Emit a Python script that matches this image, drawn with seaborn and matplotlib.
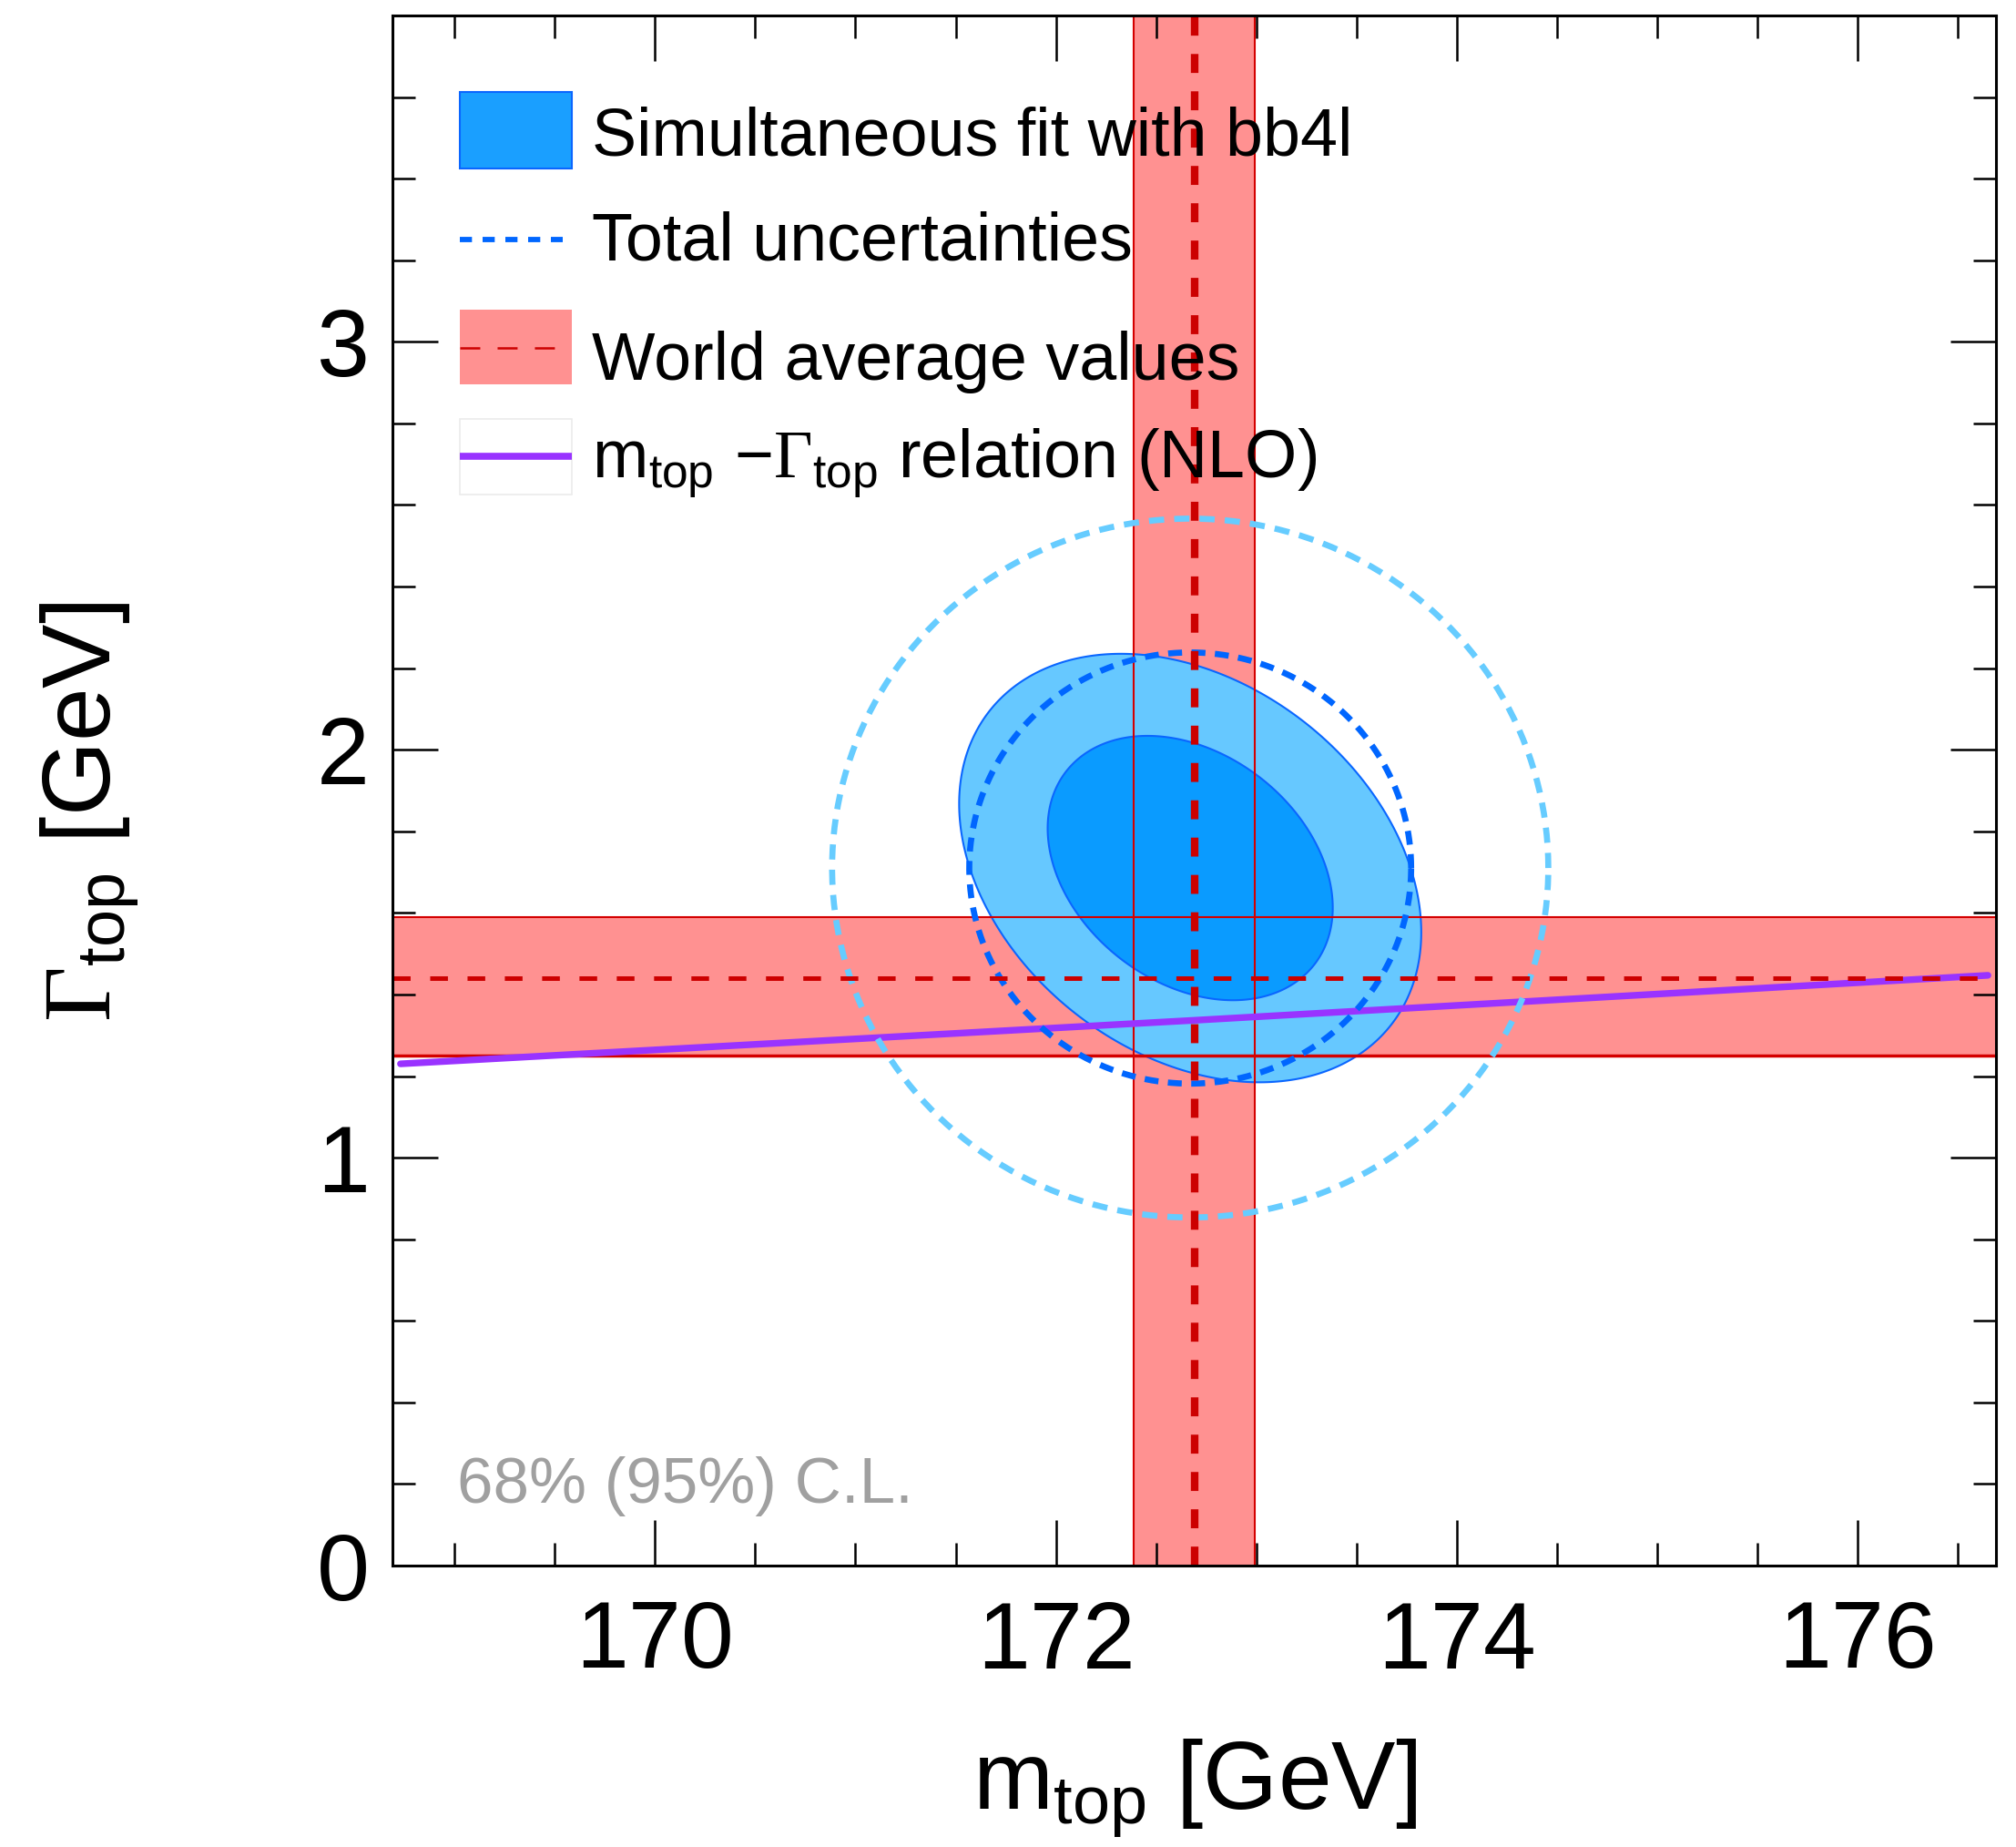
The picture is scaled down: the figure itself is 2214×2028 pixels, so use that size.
import numpy as np
import matplotlib
matplotlib.use("Agg")
import matplotlib.pyplot as plt
from matplotlib.patches import Rectangle
from matplotlib.lines import Line2D
from matplotlib.ticker import MultipleLocator
import seaborn as sns

# ---- world averages --------------------------------------------------------
wa_mass = 172.69
wa_mass_band = [172.39, 172.99]
wa_width = 1.44
wa_width_band = [1.25, 1.59]

# ---- simultaneous fit (bb4l) ----------------------------------------------
fit_mass = 172.67
fit_width = 1.71
stat_sigma = [0.471, 0.2146]   # (m_top, Gamma_top)
stat_rho = -0.30
total_sigma = [0.730, 0.350]
total_rho = 0.0

# 2D confidence levels: delta chi2 for 68% and 95%
cl_names = ["68%", "95%"]
cl_dchi2 = [2.28, 5.99]

# ---- NLO m_top - Gamma_top relation ---------------------------------------
nlo_mass = [168.73, 172.70, 176.65]
nlo_width = [1.230, 1.337, 1.447]

# ---- labels ------------------------------------------------------------------
legend_labels = [
    "Simultaneous fit with bb4l",
    "Total uncertainties",
    "World average values",
    r"$\mathrm{m}_{\mathrm{top}}$ $-\mathbf{\Gamma}_{\mathrm{top}}$ relation (NLO)",
]
cl_text = "68% (95%) C.L."
xlabel = r"$\mathrm{m}_{\mathrm{top}}$ [GeV]"
ylabel = r"$\mathbf{\Gamma}_{\mathrm{top}}$ [GeV]"

# ---- style ---------------------------------------------------------------------
sns.set_theme(style="ticks")
plt.rcParams["font.family"] = ["Liberation Sans", "DejaVu Sans"]
plt.rcParams["mathtext.fontset"] = "custom"
plt.rcParams["mathtext.rm"] = "Liberation Sans"
plt.rcParams["mathtext.it"] = "Liberation Sans:italic"
plt.rcParams["mathtext.bf"] = "Liberation Serif"
plt.rcParams["lines.scale_dashes"] = False
for key in ["text.color", "axes.labelcolor", "xtick.color", "ytick.color",
            "axes.edgecolor"]:
    plt.rcParams[key] = "black"

BAND_FILL = "#ff9191"
BAND_EDGE = "#d40000"
WA_DASH = "#cc0000"
C68 = "#0a9bff"
C95 = "#66c8ff"
CONT_EDGE = "#0a66ff"
TOT68 = "#0066ff"
TOT95 = "#66ccff"
PURPLE = "#9933ff"


def ellipse(cx, cy, sig, rho, dchi2, n=400):
    t = np.linspace(0, 2 * np.pi, n)
    r = np.sqrt(dchi2)
    x = cx + r * sig[0] * np.cos(t)
    y = cy + r * sig[1] * (rho * np.cos(t) + np.sqrt(1 - rho ** 2) * np.sin(t))
    return x, y


fig = plt.figure(figsize=(22.14, 20.28), dpi=100)
ax = fig.add_axes([431 / 2214, 309 / 2028, 1761 / 2214, 1702 / 2028])
ax.set_xlim(168.69, 176.69)
ax.set_ylim(0, 3.8)

# world-average bands
ax.axvspan(*wa_mass_band, facecolor=BAND_FILL, edgecolor="none", zorder=1)
ax.axhspan(*wa_width_band, facecolor=BAND_FILL, edgecolor="none", zorder=1)

# fit contours (95% then 68%)
for lev, col in zip(cl_dchi2[::-1], [C95, C68]):
    ex, ey = ellipse(fit_mass, fit_width, stat_sigma, stat_rho, lev)
    ax.fill(ex, ey, facecolor=col, edgecolor=CONT_EDGE, lw=1.5, zorder=2)

# band edges
for v in wa_mass_band:
    ax.axvline(v, color=BAND_EDGE, lw=1.5, zorder=3)
ax.axhline(wa_width_band[1], color=BAND_EDGE, lw=1.5, zorder=3)
ax.axhline(wa_width_band[0], color=BAND_EDGE, lw=2.5, zorder=3)

# NLO relation
sns.lineplot(x=nlo_mass, y=nlo_width, color=PURPLE, lw=5.3, ax=ax, zorder=4,
             legend=False)

# total-uncertainty contours
for lev, col, dash in zip(cl_dchi2, [TOT68, TOT95], [(11, 7.5), (12, 8)]):
    ex, ey = ellipse(fit_mass, fit_width, total_sigma, total_rho, lev)
    ax.plot(ex, ey, color=col, lw=4.8, dashes=dash, zorder=5)

# world-average central values
ax.axvline(wa_mass, color=WA_DASH, lw=6, dashes=(15, 14.5), zorder=6)
ax.axhline(wa_width, color=WA_DASH, lw=3.6, dashes=(14, 15.5), zorder=6)

# axes cosmetics
ax.xaxis.set_major_locator(MultipleLocator(2))
ax.xaxis.set_minor_locator(MultipleLocator(0.5))
ax.yaxis.set_major_locator(MultipleLocator(1))
ax.yaxis.set_minor_locator(MultipleLocator(0.2))
ax.tick_params(which="both", direction="in", top=True, right=True,
               width=1.8, color="black", labelcolor="black")
ax.tick_params(which="major", length=36, labelsize=75)
ax.tick_params(which="minor", length=18)
ax.tick_params(axis="x", which="major", pad=27)
ax.tick_params(axis="y", which="major", pad=18)
for sp in ax.spines.values():
    sp.set_linewidth(2.2)
    sp.set_color("black")
    sp.set_zorder(12)
ax.xaxis.set_zorder(11)
ax.yaxis.set_zorder(11)

ax.set_xlabel(xlabel, fontsize=76, color="black")
ax.set_ylabel(ylabel, fontsize=76, color="black")
ax.xaxis.set_label_coords(0.5, -0.111)
ax.yaxis.set_label_coords(-0.157, 0.486)

# legend, drawn in axes coordinates
T = ax.transAxes
bx0, bw = 0.0420, 0.0701
ax.add_patch(Rectangle((bx0, 0.9013), bw, 0.0494, transform=T,
                       facecolor="#1a9fff", edgecolor=CONT_EDGE, lw=1.5,
                       zorder=20))
ax.add_line(Line2D([bx0, 0.1062], [0.8555, 0.8555], transform=T,
                   color=TOT68, lw=4.2, dashes=(9.6, 8.4), zorder=20))
ax.add_patch(Rectangle((bx0, 0.7618), bw, 0.0484, transform=T,
                       facecolor=BAND_FILL, edgecolor="none", zorder=20))
ax.add_line(Line2D([bx0, 0.1062], [0.7855, 0.7855], transform=T,
                   color=WA_DASH, lw=1.8, dashes=(15.8, 13.7), zorder=21))
ax.add_patch(Rectangle((bx0, 0.6910), bw, 0.0487, transform=T,
                       facecolor="white", edgecolor="#ebebeb", lw=1.2,
                       zorder=20))
ax.add_line(Line2D([bx0, bx0 + bw], [0.7156, 0.7156], transform=T,
                   color=PURPLE, lw=5.5, solid_capstyle="butt", zorder=21))

for lab, yb in zip(legend_labels, [0.9097, 0.8422, 0.7647, 0.7011]):
    ax.text(0.1243, yb, lab, transform=T, fontsize=53, va="baseline",
            ha="left", color="black", zorder=22)

ax.text(0.0403, 0.0405, cl_text, transform=T, fontsize=51, color="#a0a0a0",
        va="baseline", ha="left", zorder=22)

fig.savefig("out.png", dpi=100)
